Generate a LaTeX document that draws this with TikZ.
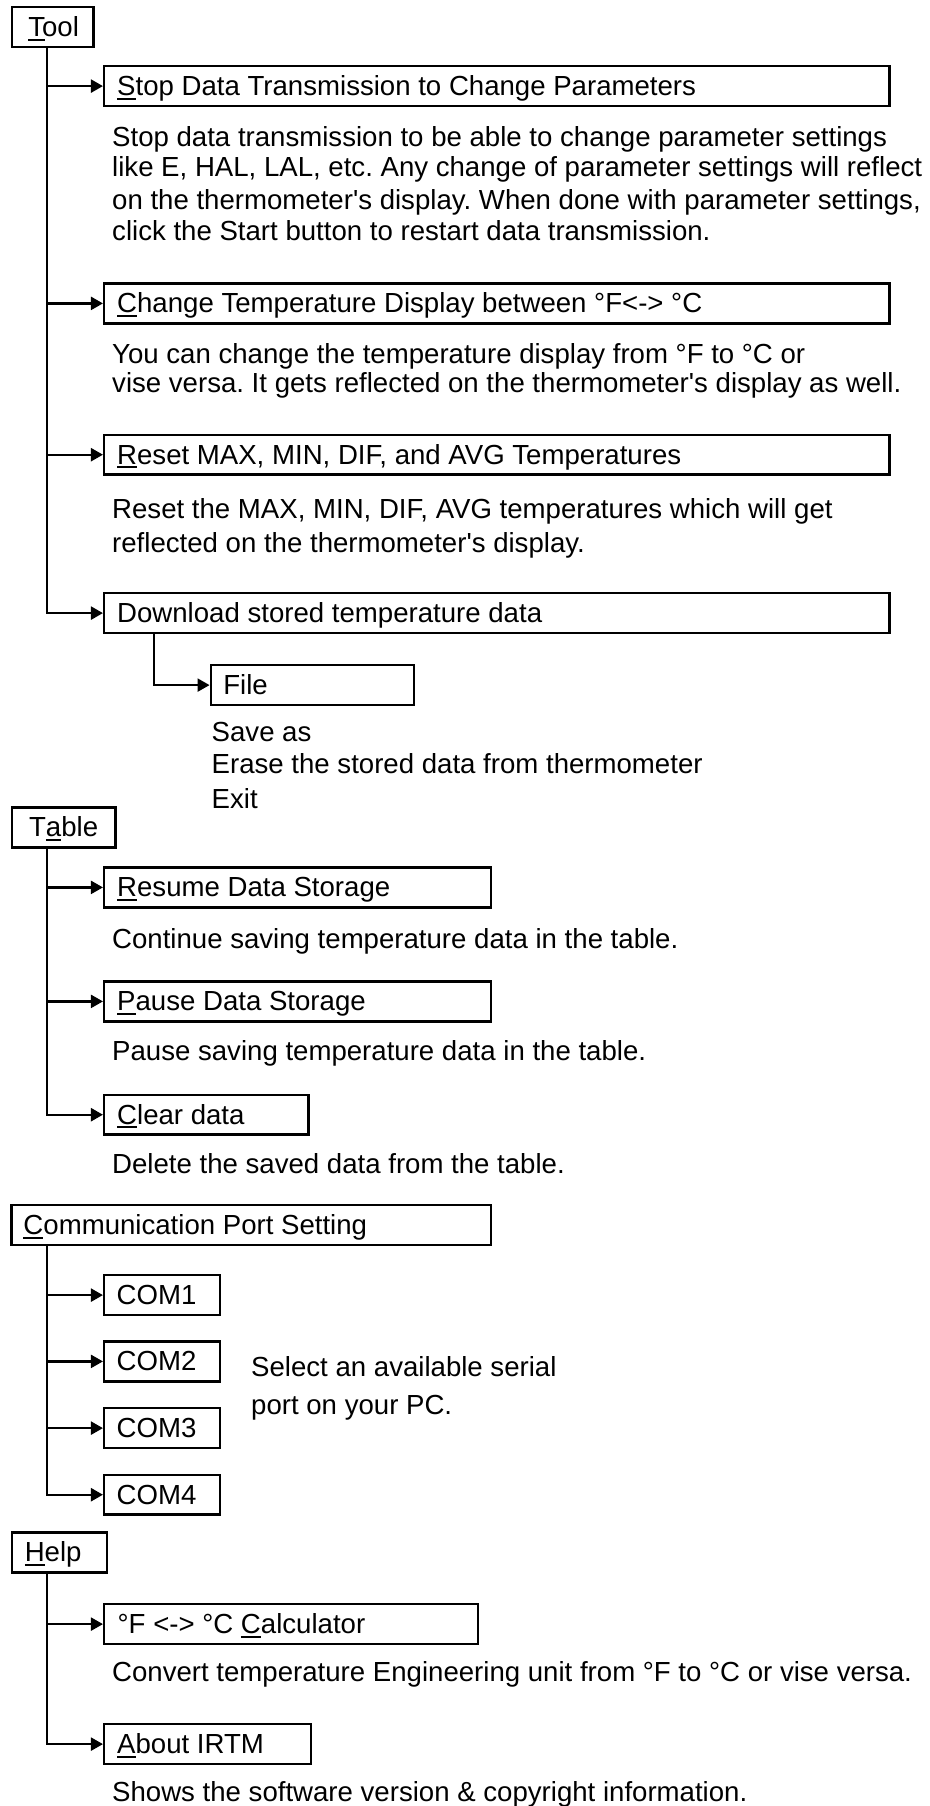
\documentclass[tikz,border=0pt]{standalone}
\usepackage{fontspec}
\newfontfamily\af{Liberation Sans}
\usetikzlibrary{arrows.meta}
\frenchspacing
\newcommand\mnem[1]{\setbox0=\hbox{#1}\rlap{\rule[-4pt]{\wd0}{2pt}}#1}
\newcommand\bx[3]{\hbox to #1pt{\hskip#2pt #3\hfil}}
\newcommand\fnt{\af\fontsize{27.6}{30}\selectfont\frenchspacing}
\tikzset{
 mbox/.style={draw, line width=2.5pt, anchor=north west, inner xsep=0pt, inner ysep=0pt,
   minimum height=39.8pt, text height=20pt, text depth=1pt, font=\fnt},
 dtext/.style={anchor=base west, inner sep=0pt, font=\fnt},
 link/.style={line width=2.3pt},
 arr/.style={line width=2.3pt, -{Triangle[length=12pt,width=13pt]}},
}
\begin{document}
\begin{tikzpicture}[x=1pt,y=-1pt]
\fill[white] (0,0) rectangle (929,1806);
\useasboundingbox (0,0) rectangle (929,1806);
\coordinate (tx) at (47.3,0);
\coordinate (fx) at (154.3,0);
% ---------- Tool ----------
\node[mbox] (tool) at (10.55,5.95) {\bx{81.9}{16.5}{\mnem{T}ool}};
\node[mbox] (stop) at (102.95,64.95) {\bx{785.1}{13}{\mnem{S}top Data Transmission to Change Parameters}};
\node[dtext] (d1a) at (112,146.5) {Stop data transmission to be able to change parameter settings};
\node[dtext] (d1b) at (112,176.7) {like E, HAL, LAL, etc. Any change of parameter settings will reflect};
\node[dtext] (d1c) at (112,210) {on the thermometer's display. When done with parameter settings,};
\node[dtext] (d1d) at (112,240.7) {click the Start button to restart data transmission.};
\node[mbox] (chg) at (102.95,282.25) {\bx{785.1}{13}{\mnem{C}hange Temperature Display between °F<-> °C}};
\node[dtext] (d2a) at (112,363.3) {You can change the temperature display from °F to °C or};
\node[dtext] (d2b) at (112,392.7) {vise versa. It gets reflected on the thermometer's display as well.};
\node[mbox] (rst) at (102.95,433.55) {\bx{785.1}{13}{\mnem{R}eset MAX, MIN, DIF, and AVG Temperatures}};
\node[dtext] (d3a) at (112,518.3) {Reset the MAX, MIN, DIF, AVG temperatures which will get};
\node[dtext] (d3b) at (112,552.7) {reflected on the thermometer's display.};
\node[mbox] (dl) at (102.95,591.95) {\bx{785.1}{13}{Download stored temperature data}};
\node[mbox] (file) at (209.55,663.95) {\bx{203.2}{12.5}{File}};
\node[dtext] (f1) at (211.5,741.7) {Save as};
\node[dtext] (f2) at (211.5,773.3) {Erase the stored data from thermometer};
\node[dtext] (f3) at (211.5,808.3) {Exit};
\draw[arr] (tool.south -| tx) |- (dl.west);
\draw[arr] (tx |- stop.west) -- (stop.west);
\draw[arr] (tx |- chg.west) -- (chg.west);
\draw[arr] (tx |- rst.west) -- (rst.west);
\draw[arr] (dl.south -| fx) |- (file.west);
% ---------- Table ----------
\node[mbox] (tab) at (10.55,806.25) {\bx{103.9}{17.3}{T\mnem{a}ble}};
\node[mbox] (res) at (102.95,866.25) {\bx{386.8}{13}{\mnem{R}esume Data Storage}};
\node[dtext] (d4) at (112,948.3) {Continue saving temperature data in the table.};
\node[mbox] (pau) at (102.95,980.25) {\bx{386.8}{13}{\mnem{P}ause Data Storage}};
\node[dtext] (d5) at (112,1060) {Pause saving temperature data in the table.};
\node[mbox] (clr) at (102.95,1093.55) {\bx{204.1}{13}{\mnem{C}lear data}};
\node[dtext] (d6) at (112,1173.3) {Delete the saved data from the table.};
\draw[arr] (tab.south -| tx) |- (clr.west);
\draw[arr] (tx |- res.west) -- (res.west);
\draw[arr] (tx |- pau.west) -- (pau.west);
% ---------- Communication ----------
\node[mbox] (com) at (10.25,1203.95) {\bx{479.5}{12}{\mnem{C}ommunication Port Setting}};
\node[mbox] (c1) at (102.95,1273.95) {\bx{115.8}{12.5}{COM1}};
\node[mbox] (c2) at (102.95,1340.25) {\bx{115.8}{12.5}{COM2}};
\node[mbox] (c3) at (102.95,1406.95) {\bx{115.8}{12.5}{COM3}};
\node[mbox] (c4) at (102.95,1473.55) {\bx{115.8}{12.5}{COM4}};
\node[dtext] (d7a) at (251,1376.7) {Select an available serial};
\node[dtext] (d7b) at (251,1414) {port on your PC.};
\draw[arr] (com.south -| tx) |- (c4.west);
\draw[arr] (tx |- c1.west) -- (c1.west);
\draw[arr] (tx |- c2.west) -- (c2.west);
\draw[arr] (tx |- c3.west) -- (c3.west);
% ---------- Help ----------
\node[mbox] (hlp) at (10.55,1531.25) {\bx{95.2}{13}{\mnem{H}elp}};
\node[mbox] (calc) at (102.95,1602.95) {\bx{373.8}{13.5}{°F <-> °C \mnem{C}alculator}};
\node[dtext] (d8) at (112,1681.7) {Convert temperature Engineering unit from °F to °C or vise versa.};
\node[mbox] (abt) at (102.95,1722.95) {\bx{206.8}{13}{\mnem{A}bout IRTM}};
\node[dtext] (d9) at (112,1801.7) {Shows the software version \& copyright information.};
\draw[arr] (hlp.south -| tx) |- (abt.west);
\draw[arr] (tx |- calc.west) -- (calc.west);
\end{tikzpicture}
\end{document}
